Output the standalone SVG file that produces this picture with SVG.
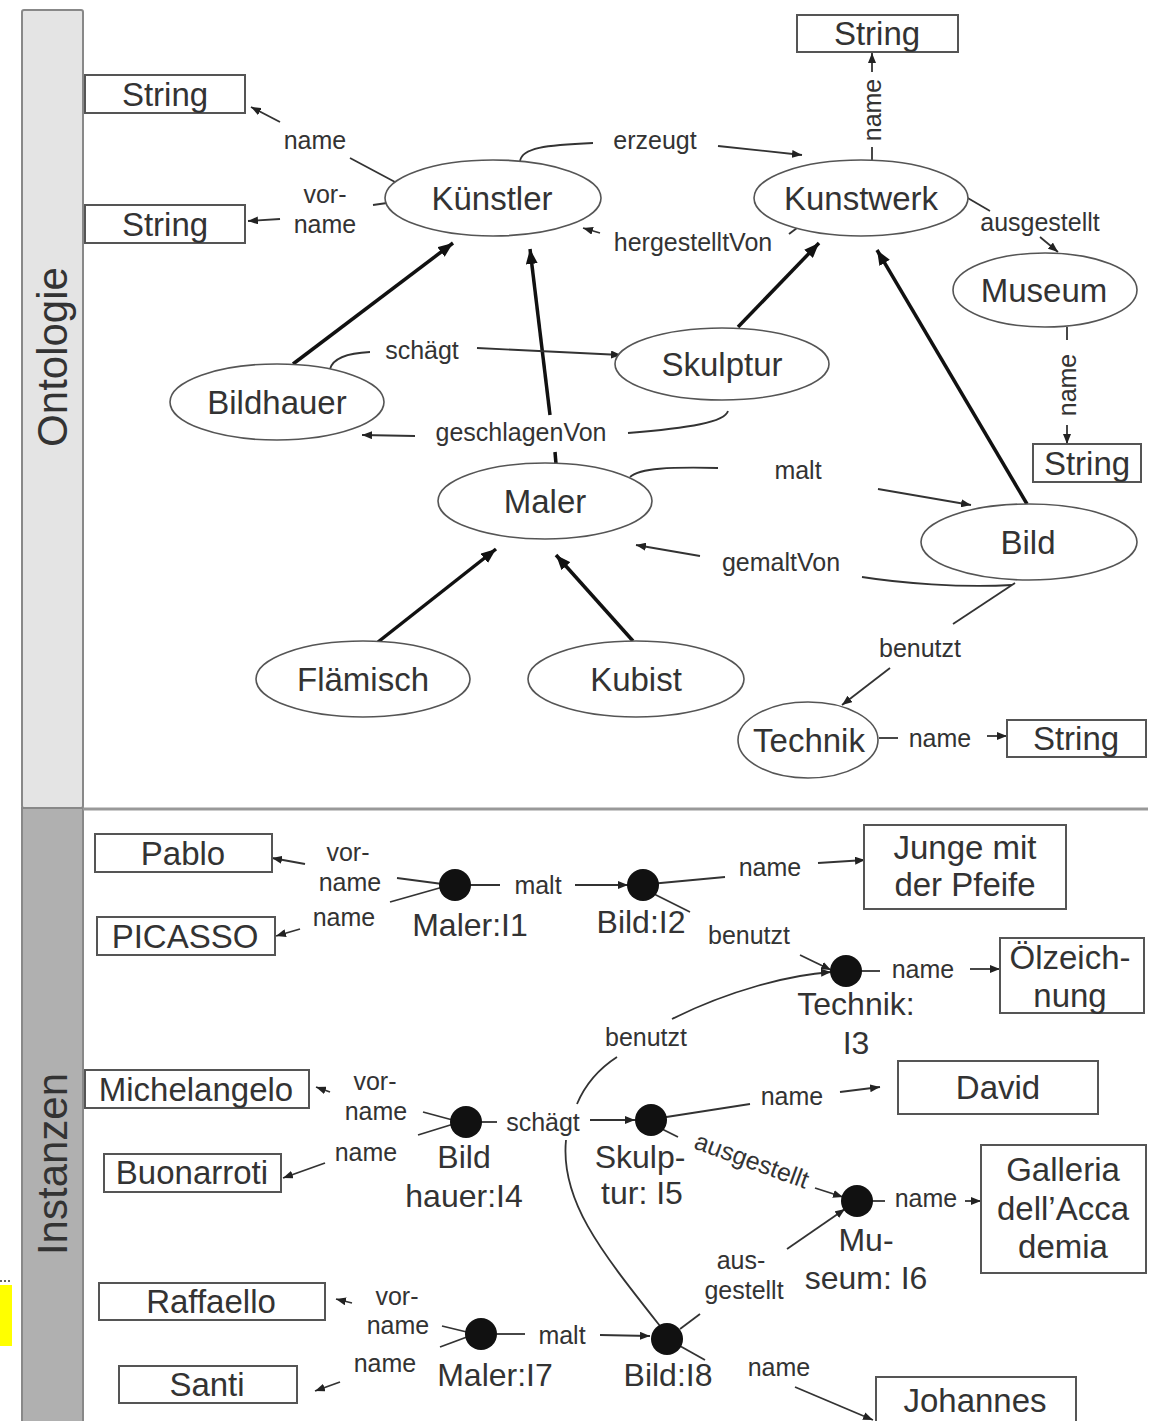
<svg xmlns="http://www.w3.org/2000/svg" width="1151" height="1421" viewBox="0 0 1151 1421">
<style>
text{font-family:"Liberation Sans",Arial,sans-serif;fill:#333;text-anchor:middle;dominant-baseline:central}
.n{font-size:33px}
.b{font-size:33px}
.l{font-size:25px}
.i{font-size:32px}
.t{font-size:42px}
ellipse{fill:#fff;stroke:#555;stroke-width:1.6}
rect.box{fill:#fff;stroke:#555;stroke-width:2}
.e{fill:none;stroke:#333;stroke-width:1.8}
.ea{fill:none;stroke:#333;stroke-width:1.8;marker-end:url(#ah)}
.th{fill:none;stroke:#111;stroke-width:3.5;marker-end:url(#ahb)}
.thp{fill:none;stroke:#111;stroke-width:3.5}
circle.d{fill:#111}
</style>
<defs>
<marker id="ah" viewBox="0 0 10 8" refX="10" refY="4" markerWidth="10" markerHeight="8" markerUnits="userSpaceOnUse" orient="auto"><path d="M0,0 L10,4 L0,8 z" fill="#222"/></marker>
<marker id="ahb" viewBox="0 0 10 8" refX="10" refY="4" markerWidth="15" markerHeight="12" markerUnits="userSpaceOnUse" orient="auto"><path d="M0,0 L10,4 L0,8 z" fill="#111"/></marker>
</defs>
<rect width="1151" height="1421" fill="#fff"/>
<g id="bands">
<rect x="22" y="10" width="61" height="798" rx="2" fill="#e4e4e4" stroke="#888" stroke-width="2"/>
<rect x="22" y="808" width="61" height="620" fill="#b0b0b0" stroke="#888" stroke-width="2"/>
<line x1="83" y1="809" x2="1148" y2="809" stroke="#999" stroke-width="3"/>
<text class="t" transform="translate(52,357) rotate(-90)">Ontologie</text>
<text class="t" transform="translate(52,1164) rotate(-90)">Instanzen</text>
<line x1="0" y1="1281" x2="12" y2="1281" stroke="#333" stroke-width="1.5" stroke-dasharray="2,2"/>
<rect x="0" y="1285" width="12" height="61" fill="#ffff00"/>
</g>
<g id="connectors">
<line class="e" x1="395" y1="182" x2="350" y2="158"/>
<text class="l" x="315" y="140">name</text>
<line class="ea" x1="280" y1="122" x2="251" y2="107"/>
<line class="e" x1="387" y1="203" x2="373" y2="205"/>
<text class="l" x="325" y="194">vor-</text>
<text class="l" x="325" y="224">name</text>
<line class="ea" x1="280" y1="219" x2="248" y2="221"/>
<path class="e" d="M520,161 C522,148 545,145 593,143"/>
<text class="l" x="655" y="140">erzeugt</text>
<line class="ea" x1="718" y1="146" x2="802" y2="155"/>
<line class="e" x1="797" y1="228" x2="789" y2="234"/>
<text class="l" x="693" y="242">hergestelltVon</text>
<line class="ea" x1="600" y1="233" x2="583" y2="228"/>
<line class="e" x1="872" y1="160" x2="872" y2="147"/>
<text class="l" transform="translate(872,110) rotate(-90)">name</text>
<line class="ea" x1="872" y1="72" x2="872" y2="53"/>
<line class="e" x1="966" y1="197" x2="990" y2="211"/>
<text class="l" x="1040" y="222">ausgestellt</text>
<line class="ea" x1="1040" y1="237" x2="1058" y2="252"/>
<line class="e" x1="1067" y1="327" x2="1067" y2="340"/>
<text class="l" transform="translate(1067,385) rotate(-90)">name</text>
<line class="ea" x1="1067" y1="425" x2="1067" y2="444"/>
<line class="th" x1="293" y1="364" x2="453" y2="243"/>
<line class="thp" x1="556" y1="464" x2="555" y2="452"/>
<line class="th" x1="550" y1="415" x2="530" y2="249"/>
<line class="th" x1="738" y1="327" x2="819" y2="243"/>
<line class="th" x1="1027" y1="504" x2="877" y2="250"/>
<line class="th" x1="378" y1="642" x2="496" y2="549"/>
<line class="th" x1="633" y1="641" x2="556" y2="555"/>
<path class="e" d="M330,369 C333,358 350,353 370,352"/>
<text class="l" x="422" y="350">schägt</text>
<line class="ea" x1="477" y1="348" x2="621" y2="355"/>
<path class="e" d="M728,411 C725,422 690,428 628,433"/>
<text class="l" x="521" y="432">geschlagenVon</text>
<line class="ea" x1="415" y1="436" x2="362" y2="435"/>
<path class="e" d="M630,477 C640,468 670,467 718,468"/>
<text class="l" x="798" y="470">malt</text>
<line class="ea" x1="878" y1="489" x2="971" y2="505"/>
<path class="e" d="M1012,585 C960,588 900,583 862,577"/>
<text class="l" x="781" y="562">gemaltVon</text>
<line class="ea" x1="700" y1="556" x2="636" y2="545"/>
<line class="e" x1="1015" y1="583" x2="953" y2="624"/>
<text class="l" x="920" y="648">benutzt</text>
<line class="ea" x1="890" y1="668" x2="842" y2="705"/>
<line class="e" x1="879" y1="738" x2="898" y2="738"/>
<text class="l" x="940" y="738">name</text>
<line class="ea" x1="987" y1="736" x2="1007" y2="736"/>

<line class="e" x1="397" y1="878" x2="450" y2="885"/>
<line class="e" x1="390" y1="902" x2="450" y2="885"/>
<text class="l" x="348" y="852">vor-</text>
<text class="l" x="350" y="882">name</text>
<text class="l" x="344" y="917">name</text>
<line class="ea" x1="305" y1="864" x2="272" y2="858"/>
<line class="ea" x1="300" y1="929" x2="276" y2="936"/>
<line class="e" x1="466" y1="885" x2="500" y2="885"/>
<text class="l" x="538" y="885">malt</text>
<line class="ea" x1="575" y1="885" x2="628" y2="885"/>
<line class="e" x1="650" y1="884" x2="725" y2="877"/>
<text class="l" x="770" y="867">name</text>
<line class="ea" x1="818" y1="863" x2="865" y2="860"/>
<line class="e" x1="652" y1="893" x2="690" y2="912"/>
<text class="l" x="749" y="935">benutzt</text>
<line class="ea" x1="800" y1="955" x2="831" y2="970"/>
<line class="e" x1="860" y1="971" x2="880" y2="971"/>
<text class="l" x="923" y="969">name</text>
<line class="ea" x1="970" y1="969" x2="1000" y2="969"/>
<path class="ea" d="M672,1019 C730,990 790,975 831,972"/>
<path class="e" d="M660,1326 C600,1250 560,1200 566,1140"/>
<path class="e" d="M577,1104 C585,1085 600,1068 617,1057"/>
<text class="l" x="646" y="1037">benutzt</text>
<line class="e" x1="423" y1="1112" x2="460" y2="1122"/>
<line class="e" x1="418" y1="1135" x2="460" y2="1122"/>
<text class="l" x="375" y="1081">vor-</text>
<text class="l" x="376" y="1111">name</text>
<text class="l" x="366" y="1152">name</text>
<line class="ea" x1="330" y1="1092" x2="316" y2="1087"/>
<line class="ea" x1="325" y1="1163" x2="283" y2="1178"/>
<line class="e" x1="480" y1="1122" x2="497" y2="1122"/>
<text class="l" x="543" y="1122">schägt</text>
<line class="ea" x1="590" y1="1120" x2="635" y2="1120"/>
<line class="e" x1="660" y1="1118" x2="750" y2="1104"/>
<text class="l" x="792" y="1096">name</text>
<line class="ea" x1="840" y1="1092" x2="880" y2="1087"/>
<line class="e" x1="658" y1="1127" x2="678" y2="1137"/>
<text class="l" font-size="24" transform="translate(752,1160) rotate(20)">ausgestellt</text>
<line class="ea" x1="815" y1="1188" x2="843" y2="1197"/>
<line class="e" x1="870" y1="1201" x2="885" y2="1201"/>
<text class="l" x="926" y="1198">name</text>
<line class="ea" x1="965" y1="1201" x2="981" y2="1201"/>
<line class="e" x1="680" y1="1329" x2="700" y2="1314"/>
<text class="l" x="741" y="1260">aus-</text>
<text class="l" x="744" y="1290">gestellt</text>
<line class="ea" x1="787" y1="1249" x2="845" y2="1209"/>
<line class="e" x1="442" y1="1326" x2="475" y2="1334"/>
<line class="e" x1="440" y1="1347" x2="475" y2="1334"/>
<text class="l" x="397" y="1296">vor-</text>
<text class="l" x="398" y="1325">name</text>
<text class="l" x="385" y="1363">name</text>
<line class="ea" x1="352" y1="1303" x2="336" y2="1299"/>
<line class="ea" x1="340" y1="1382" x2="315" y2="1391"/>
<line class="e" x1="497" y1="1334" x2="525" y2="1334"/>
<text class="l" x="562" y="1335">malt</text>
<line class="ea" x1="600" y1="1335" x2="650" y2="1336"/>
<line class="e" x1="680" y1="1346" x2="705" y2="1360"/>
<text class="l" x="779" y="1367">name</text>
<line class="ea" x1="795" y1="1387" x2="873" y2="1420"/>
</g>
<g id="kuenstler"><ellipse cx="493" cy="198" rx="108" ry="38"/><text class="n" x="492" y="198">Künstler</text></g>
<g id="kunstwerk"><ellipse cx="861" cy="198" rx="107" ry="38"/><text class="n" x="861" y="198">Kunstwerk</text></g>
<g id="museum"><ellipse cx="1045" cy="290" rx="92" ry="37"/><text class="n" x="1044" y="290">Museum</text></g>
<g id="skulptur"><ellipse cx="722" cy="364" rx="107" ry="36"/><text class="n" x="722" y="364">Skulptur</text></g>
<g id="bildhauer"><ellipse cx="277" cy="402" rx="107" ry="38"/><text class="n" x="277" y="402">Bildhauer</text></g>
<g id="maler"><ellipse cx="545" cy="501" rx="107" ry="38"/><text class="n" x="545" y="501">Maler</text></g>
<g id="bild"><ellipse cx="1029" cy="542" rx="108" ry="38"/><text class="n" x="1028" y="542">Bild</text></g>
<g id="flaemisch"><ellipse cx="363" cy="679" rx="107" ry="38"/><text class="n" x="363" y="679">Flämisch</text></g>
<g id="kubist"><ellipse cx="636" cy="679" rx="108" ry="38"/><text class="n" x="636" y="679">Kubist</text></g>
<g id="technik"><ellipse cx="808" cy="740" rx="70" ry="38"/><text class="n" x="809" y="740">Technik</text></g>
<g id="string1"><rect class="box" x="85" y="75" width="160" height="38"/><text class="b" x="165" y="94">String</text></g>
<g id="string2"><rect class="box" x="85" y="205" width="160" height="38"/><text class="b" x="165" y="224">String</text></g>
<g id="string3"><rect class="box" x="797" y="15" width="161" height="37"/><text class="b" x="877" y="33">String</text></g>
<g id="string4"><rect class="box" x="1033" y="444" width="108" height="38"/><text class="b" x="1087" y="463">String</text></g>
<g id="string5"><rect class="box" x="1007" y="720" width="139" height="37"/><text class="b" x="1076" y="738">String</text></g>
<g id="i1"><circle class="d" cx="455" cy="885" r="16"/><text class="i" x="470" y="925">Maler:I1</text></g>
<g id="i2"><circle class="d" cx="643" cy="885" r="16"/><text class="i" x="641" y="922">Bild:I2</text></g>
<g id="i3"><circle class="d" cx="846" cy="971" r="16"/><text class="i" x="856" y="1004">Technik:</text><text class="i" x="856" y="1043">I3</text></g>
<g id="i4"><circle class="d" cx="466" cy="1122" r="16"/><text class="i" x="464" y="1157">Bild</text><text class="i" x="464" y="1196">hauer:I4</text></g>
<g id="i5"><circle class="d" cx="651" cy="1120" r="16"/><text class="i" x="640" y="1157">Skulp-</text><text class="i" x="642" y="1193">tur: I5</text></g>
<g id="i6"><circle class="d" cx="857" cy="1201" r="16"/><text class="i" x="866" y="1240">Mu-</text><text class="i" x="866" y="1278">seum: I6</text></g>
<g id="i7"><circle class="d" cx="481" cy="1334" r="16"/><text class="i" x="495" y="1375">Maler:I7</text></g>
<g id="i8"><circle class="d" cx="667" cy="1339" r="16"/><text class="i" x="668" y="1375">Bild:I8</text></g>
<g id="pablo"><rect class="box" x="95" y="834" width="177" height="38"/><text class="b" x="183" y="853">Pablo</text></g>
<g id="picasso"><rect class="box" x="97" y="917" width="178" height="38"/><text class="b" x="185" y="936">PICASSO</text></g>
<g id="junge"><rect class="box" x="864" y="825" width="202" height="84"/><text class="b" x="965" y="847">Junge mit</text><text class="b" x="965" y="884">der Pfeife</text></g>
<g id="oelzeichnung"><rect class="box" x="1000" y="938" width="144" height="75"/><text class="b" x="1070" y="957">Ölzeich-</text><text class="b" x="1070" y="995">nung</text></g>
<g id="michelangelo"><rect class="box" x="85" y="1070" width="224" height="38"/><text class="b" x="196" y="1089">Michelangelo</text></g>
<g id="buonarroti"><rect class="box" x="104" y="1154" width="177" height="38"/><text class="b" x="192" y="1172">Buonarroti</text></g>
<g id="david"><rect class="box" x="898" y="1061" width="200" height="53"/><text class="b" x="998" y="1087">David</text></g>
<g id="galleria"><rect class="box" x="981" y="1145" width="165" height="128"/><text class="b" x="1063" y="1169">Galleria</text><text class="b" x="1063" y="1208">dell’Acca</text><text class="b" x="1063" y="1246">demia</text></g>
<g id="raffaello"><rect class="box" x="99" y="1283" width="226" height="37"/><text class="b" x="211" y="1301">Raffaello</text></g>
<g id="santi"><rect class="box" x="119" y="1366" width="178" height="37"/><text class="b" x="207" y="1384">Santi</text></g>
<g id="johannes"><rect class="box" x="876" y="1377" width="200" height="50"/><text class="b" x="975" y="1400">Johannes</text></g>
</svg>
